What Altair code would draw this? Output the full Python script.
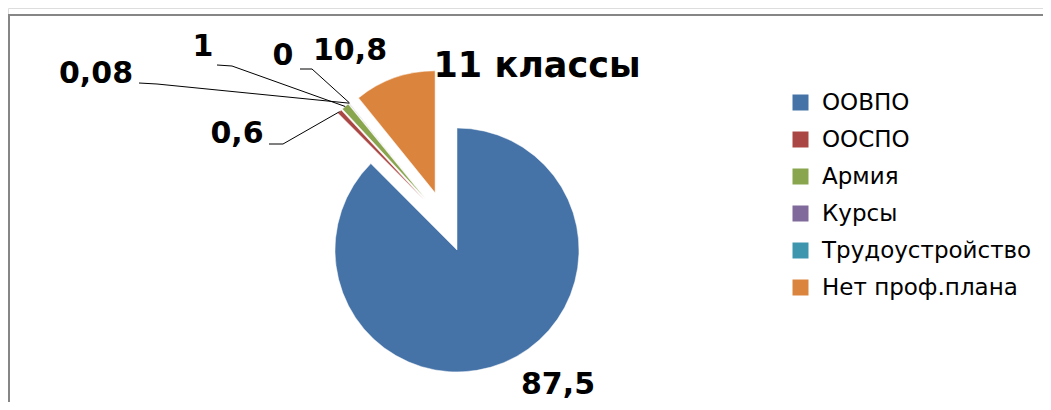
import altair as alt
import pandas as pd

# ---- data ----
categories = ["ООВПО", "ООСПО", "Армия", "Курсы", "Трудоустройство", "Нет проф.плана"]
values = [87.5, 0.6, 1, 0.08, 0, 10.8]
labels = ["87,5", "0,6", "1", "0,08", "0", "10,8"]
colors = ["#4572A7", "#AA4643", "#89A54E", "#80699B", "#3D96AE", "#DB843D"]
title_text = "11 классы"

# ---- layout (pixels in plot area) ----
label_x = [550, 229, 195, 88, 275, 342]
label_y = [377, 126, 39, 66, 48, 43]
has_line = [False, True, True, True, True, False]
line_start_x = [0, 261, 209, 131, 292, 0]
line_start_y = [0, 136, 57, 75, 61, 0]
line_kink_x = [0, 275, 224, 149, 304, 0]
line_kink_y = [0, 136, 58, 76, 61, 0]

CX, CY = 437.3, 213.7   # pie centre
R = 122                 # radius
D = 30.6                # explode distance

W, H = 1035, 394

df = pd.DataFrame({
    "order": list(range(len(categories))),
    "category": categories,
    "value": values,
    "label": labels,
    "lx": label_x,
    "ly": label_y,
    "has_line": has_line,
    "sx": line_start_x,
    "sy": line_start_y,
    "kx": line_kink_x,
    "ky": line_kink_y,
})

base = (
    alt.Chart(df)
    .transform_joinaggregate(total="sum(value)")
    .transform_window(cum="sum(value)", sort=[{"field": "order"}], frame=[None, 0])
    .transform_calculate(
        start="2*PI*(datum.cum - datum.value)/datum.total",
        end="2*PI*datum.cum/datum.total",
    )
    .transform_calculate(mid="(datum.start + datum.end)/2")
    .transform_calculate(
        cx=f"{CX} + {D}*sin(datum.mid)",
        cy=f"{CY} - {D}*cos(datum.mid)",
        ox=f"{CX} + {D + R}*sin(datum.mid)",
        oy=f"{CY} - {D + R}*cos(datum.mid)",
    )
)

arcs = base.mark_arc(radius=R, stroke="white", strokeWidth=0.5).encode(
    theta=alt.Theta("start:Q", scale=None, stack=None),
    theta2=alt.Theta2("end:Q"),
    x=alt.X("cx:Q", scale=None),
    y=alt.Y("cy:Q", scale=None),
    color=alt.Color(
        "category:N",
        scale=alt.Scale(domain=categories, range=colors),
        sort=categories,
        legend=alt.Legend(
            title=None,
            orient="none",
            legendX=781,
            legendY=83,
            padding=0,
            symbolType="square",
            symbolSize=256,
            symbolStrokeWidth=0,
            labelFont="DejaVu Sans",
            labelFontSize=23,
            labelColor="#000000",
            labelOffset=10,
            rowPadding=13,
            labelLimit=400,
        ),
    ),
    order=alt.Order("order:Q"),
)

lines = base.transform_filter("datum.has_line")

rule1 = lines.mark_rule(color="#000000", strokeWidth=1).encode(
    x=alt.X("sx:Q", scale=None), y=alt.Y("sy:Q", scale=None),
    x2="kx:Q", y2="ky:Q",
)
rule2 = lines.mark_rule(color="#000000", strokeWidth=1).encode(
    x=alt.X("kx:Q", scale=None), y=alt.Y("ky:Q", scale=None),
    x2="ox:Q", y2="oy:Q",
)

texts = base.mark_text(
    font="DejaVu Sans", fontWeight="bold", fontSize=30, color="#000000",
    align="center", baseline="middle",
).encode(
    x=alt.X("lx:Q", scale=None), y=alt.Y("ly:Q", scale=None), text="label:N"
)

title = alt.Chart(pd.DataFrame({"t": [title_text]})).mark_text(
    font="DejaVu Sans", fontWeight="bold", fontSize=35, color="#000000",
    align="center", baseline="middle",
).encode(x=alt.value(529), y=alt.value(58), text="t:N")

border = alt.Chart(pd.DataFrame({"a": [0]})).mark_rect(
    filled=False, stroke="#868686", strokeWidth=2
).encode(x=alt.value(1), y=alt.value(7), x2=alt.value(1200), y2=alt.value(600))

chart = (
    alt.layer(border, arcs, rule1, rule2, texts, title)
    .properties(width=W, height=H, padding=0, autosize=alt.AutoSizeParams(type="none"))
    .configure_view(stroke=None)
    .configure(background="white")
)

chart.save("out.html", embed_options={"renderer": "svg", "actions": False})
